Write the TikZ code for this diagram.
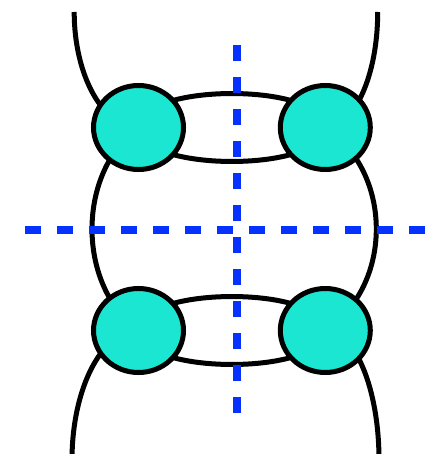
\documentclass[tikz,border=0pt]{standalone}
\usepackage{tikz}
\usetikzlibrary{shapes.geometric}

\definecolor{blobfill}{RGB}{26,230,209}
\definecolor{cutblue}{RGB}{5,50,255}

\begin{document}
\begin{tikzpicture}[x=1pt,y=-1pt,
		strand/.style={line width=5pt, black},
		blob/.style={ellipse, draw, line width=5pt, fill=blobfill, minimum width=90pt, minimum height=84pt, inner sep=0pt},
		cutline/.style={line width=8pt, cutblue, dash pattern=on 16pt off 16pt}]
	\clip (0,0) rectangle (441,454);
	
	% Blob centres and loose ends
	\coordinate (tl) at (138.5,127.5);
	\coordinate (tr) at (325.3,127.5);
	\coordinate (bl) at (138.5,330.5);
	\coordinate (br) at (325.3,330.5);
	\coordinate (topl) at (74.2,12);
	\coordinate (topr) at (377.7,12);
	\coordinate (botl) at (72,460);
	\coordinate (botr) at (379,460);
	
	% Draw the strands
	\draw[strand] (topl) .. controls +(0,63.8) and +(-35.5,0) .. (tl);
	\draw[strand] (topr) .. controls +(0,63.8) and +(28.9,0) .. (tr);
	\draw[strand] (tl) .. controls +(0,-45.3) and +(0,-45.3) .. (tr);
	\draw[strand] (tl) .. controls +(0,45.3) and +(0,45.3) .. (tr);
	\draw[strand] (tl) .. controls +(-62,45) and +(-62,-45) .. (bl);
	\draw[strand] (tr) .. controls +(68,45) and +(68,-45) .. (br);
	\draw[strand] (bl) .. controls +(0,-45.3) and +(0,-45.3) .. (br);
	\draw[strand] (bl) .. controls +(0,45.3) and +(0,45.3) .. (br);
	\draw[strand] (bl) .. controls +(-36.7,0) and +(0,-71.5) .. (botl);
	\draw[strand] (br) .. controls +(29.6,0) and +(0,-71.5) .. (botr);
	
	% Draw the blobs
	\node[blob] (tlblob) at (tl) {};
	\node[blob] (trblob) at (tr) {};
	\node[blob] (blblob) at (bl) {};
	\node[blob] (brblob) at (br) {};
	
	% Cut lines
	\coordinate (vtop) at (236.7,45);
	\coordinate (vbot) at (236.7,413);
	\coordinate (hleft) at (24.5,229.8);
	\coordinate (hright) at (424.5,229.8);
	\draw[cutline] (vtop) -- (vbot);
	\draw[cutline] (hleft) -- (hright);
\end{tikzpicture}
\end{document}
